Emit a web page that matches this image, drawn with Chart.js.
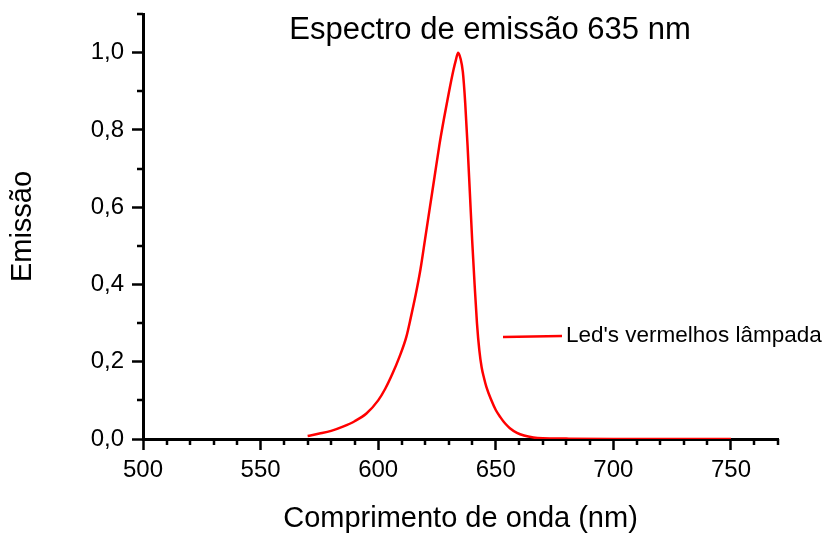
<!DOCTYPE html>
<html>
<head>
<meta charset="utf-8">
<script src="https://cdn.jsdelivr.net/npm/chart.js@4"></script>
<style>
  html, body { margin: 0; padding: 0; background: #fff; }
  #wrap { width: 823px; height: 536px; }
</style>
</head>
<body>
<div id="wrap"><canvas id="spectrumChart"></canvas></div>
<script>
// Emission spectrum (wavelength nm, relative emission)
const wavelengths = [570, 575, 580, 585, 590, 595, 600, 603, 606, 609, 612, 614, 616, 618, 620, 622, 624, 626, 628, 630,
    632, 633, 634, 635, 636, 637, 638, 639, 640, 641, 642, 643, 644, 645, 646, 648, 650, 652, 654, 656,
    659, 662, 666, 670, 680, 700, 750];
const emission = [0.008, 0.014, 0.021, 0.032, 0.046, 0.066, 0.100, 0.130, 0.168, 0.212, 0.265, 0.318, 0.375, 0.440, 0.520, 0.600, 0.680, 0.760, 0.830, 0.895,
    0.955, 0.980, 1.000, 0.985, 0.950, 0.870, 0.760, 0.635, 0.510, 0.400, 0.300, 0.230, 0.185, 0.158, 0.135, 0.102, 0.075, 0.056, 0.040, 0.028,
    0.016, 0.009, 0.004, 0.002, 0.001, 0, 0];
const xMinorTicks = [510, 520, 530, 540, 560, 570, 580, 590, 610, 620, 630, 640, 660, 670, 680, 690, 710, 720, 730, 740, 760, 770];
const yMinorTicks = [0.1, 0.3, 0.5, 0.7, 0.9, 1.1];

const chartTitle = 'Espectro de emissão 635 nm';
const seriesLabel = "Led's vermelhos lâmpada";
const FONT = 'Liberation Sans, Arial, sans-serif';

const points = wavelengths.map((w, i) => ({ x: w, y: emission[i] }));

// minor ticks, plot title and the inline legend
const decorPlugin = {
    id: 'decor',
    afterDraw(chart) {
        const ctx = chart.ctx;
        const xs = chart.scales.x;
        const ys = chart.scales.y;
        ctx.save();
        ctx.strokeStyle = '#000';
        ctx.lineWidth = 2.5;
        ctx.beginPath();
        xMinorTicks.forEach(v => {
            const px = Math.round(xs.getPixelForValue(v));
            ctx.moveTo(px, ys.bottom);
            ctx.lineTo(px, ys.bottom + 6);
        });
        yMinorTicks.forEach(v => {
            const py = Math.round(ys.getPixelForValue(v));
            ctx.moveTo(xs.left, py);
            ctx.lineTo(xs.left - 6, py);
        });
        ctx.stroke();

        // title
        ctx.fillStyle = '#000';
        ctx.font = '31px ' + FONT;
        ctx.textAlign = 'center';
        ctx.textBaseline = 'middle';
        ctx.fillText(chartTitle, 490, 30);

        // legend
        ctx.strokeStyle = '#ff0000';
        ctx.lineWidth = 2.5;
        ctx.beginPath();
        ctx.moveTo(503, 337);
        ctx.lineTo(562, 336);
        ctx.stroke();
        ctx.font = '22.5px ' + FONT;
        ctx.textAlign = 'left';
        ctx.fillText(seriesLabel, 566, 336);
        ctx.restore();
    }
};

new Chart(document.getElementById('spectrumChart').getContext('2d'), {
    type: 'line',
    data: {
        datasets: [{
            label: seriesLabel,
            data: points,
            borderColor: '#ff0000',
            borderWidth: 2.5,
            pointRadius: 0,
            fill: false,
            cubicInterpolationMode: 'monotone'
        }]
    },
    options: {
        responsive: true,
        maintainAspectRatio: false,
        animation: false,
        layout: { padding: { top: 14, right: 45, left: 0, bottom: 0 } },
        plugins: {
            legend: { display: false },
            tooltip: { enabled: false }
        },
        scales: {
            x: {
                type: 'linear',
                min: 500,
                max: 770,
                afterFit: s => { s.height = 97; s.paddingLeft = 0; s.paddingRight = 0; },
                border: { color: '#000', width: 3 },
                grid: { drawOnChartArea: false, drawTicks: true, tickLength: 11, tickWidth: 2.5, tickColor: '#000' },
                ticks: { stepSize: 50, includeBounds: false, color: '#000', padding: 6, maxRotation: 0,
                    font: { family: FONT, size: 24 } },
                title: { display: true, text: 'Comprimento de onda (nm)', color: '#000',
                    font: { family: FONT, size: 29 }, padding: { top: 0, bottom: 0 } }
            },
            y: {
                min: 0,
                max: 1.1,
                afterFit: s => { s.width = 143; s.paddingTop = 0; s.paddingBottom = 0; },
                border: { color: '#000', width: 3 },
                grid: { drawOnChartArea: false, drawTicks: true, tickLength: 11, tickWidth: 2.5, tickColor: '#000' },
                ticks: { stepSize: 0.2, includeBounds: false, color: '#000', padding: 8,
                    font: { family: FONT, size: 24 },
                    callback: v => v.toFixed(1).replace('.', ',') },
                title: { display: true, text: 'Emissão', color: '#000',
                    font: { family: FONT, size: 29 }, padding: { top: 6, bottom: 0 } }
            }
        }
    },
    plugins: [decorPlugin]
});
</script>
</body>
</html>
